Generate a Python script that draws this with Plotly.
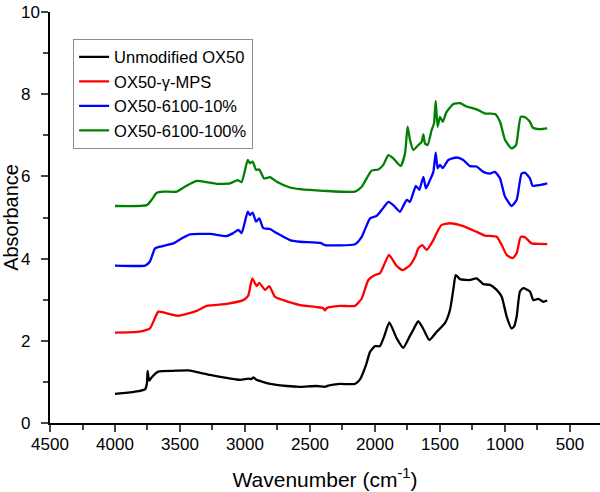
import plotly.graph_objects as go

# ---- data ----
names = ["Unmodified OX50", "OX50-\u03b3-MPS", "OX50-6100-10%", "OX50-6100-100%"]

wn_unmod = [4000, 3850, 3769, 3755, 3749, 3742, 3736, 3720, 3667, 3550, 3436, 3269, 3038, 2975, 2950, 2936, 2910,
            2872, 2833, 2679, 2577, 2450, 2385, 2360, 2269, 2154, 2115, 2070, 2038, 2000, 1962, 1930, 1890, 1833,
            1782, 1731, 1700, 1667, 1630, 1582, 1525, 1462, 1423, 1395, 1379, 1346, 1300, 1269, 1218, 1167, 1115,
            1064, 1025, 987, 949, 930, 910, 885, 859, 808, 782, 744, 705, 675]
abs_unmod = [0.71, 0.76, 0.82, 0.95, 1.27, 1.10, 1.03, 1.10, 1.25, 1.27, 1.28, 1.17, 1.05, 1.08, 1.07, 1.11, 1.05,
             1.01, 0.97, 0.90, 0.88, 0.90, 0.88, 0.91, 0.95, 0.95, 1.06, 1.40, 1.73, 1.87, 1.87, 2.10, 2.45, 2.06,
             1.83, 2.12, 2.30, 2.48, 2.30, 2.02, 2.22, 2.43, 2.75, 3.30, 3.60, 3.50, 3.48, 3.48, 3.52, 3.38, 3.36,
             3.24, 3.07, 2.59, 2.30, 2.35, 2.59, 3.20, 3.28, 3.20, 2.99, 3.02, 2.95, 2.98]

wn_mps = [4000, 3850, 3782, 3731, 3700, 3667, 3615, 3513, 3372, 3295, 3141, 3013, 2975, 2944, 2910, 2890, 2846,
          2813, 2769, 2705, 2577, 2450, 2400, 2385, 2370, 2269, 2154, 2102, 2051, 2000, 1962, 1930, 1892, 1838,
          1787, 1731, 1690, 1667, 1636, 1603, 1551, 1513, 1487, 1423, 1321, 1218, 1154, 1064, 1025, 987, 941,
          910, 879, 846, 795, 744, 675]
abs_mps = [2.20, 2.21, 2.24, 2.30, 2.50, 2.71, 2.68, 2.61, 2.73, 2.85, 2.90, 2.99, 3.10, 3.52, 3.33, 3.41, 3.24,
           3.33, 3.07, 2.99, 2.87, 2.82, 2.80, 2.74, 2.80, 2.85, 2.85, 3.03, 3.48, 3.60, 3.64, 3.85, 4.09, 3.84,
           3.72, 3.84, 4.05, 4.25, 4.33, 4.21, 4.45, 4.70, 4.82, 4.86, 4.79, 4.65, 4.56, 4.53, 4.33, 4.09, 4.01,
           4.13, 4.53, 4.52, 4.37, 4.36, 4.35]

wn_10 = [4000, 3850, 3769, 3731, 3692, 3654, 3603, 3551, 3487, 3423, 3269, 3141, 3090, 3051, 3026, 2979, 2962,
         2941, 2915, 2890, 2859, 2808, 2756, 2654, 2577, 2420, 2385, 2154, 2102, 2038, 1987, 1949, 1897, 1859,
         1808, 1756, 1731, 1685, 1659, 1628, 1608, 1577, 1551, 1533, 1518, 1500, 1479, 1436, 1372, 1321, 1269,
         1218, 1167, 1115, 1077, 1038, 1000, 949, 910, 872, 846, 808, 787, 731, 675]
abs_10 = [3.83, 3.82, 3.83, 3.93, 4.25, 4.29, 4.33, 4.37, 4.49, 4.59, 4.60, 4.55, 4.62, 4.70, 4.62, 5.14, 5.06,
          5.12, 4.90, 4.98, 4.74, 4.72, 4.62, 4.45, 4.41, 4.38, 4.33, 4.35, 4.53, 4.98, 5.04, 5.18, 5.38, 5.30,
          5.14, 5.43, 5.38, 5.77, 5.67, 5.99, 5.71, 5.91, 6.11, 6.58, 6.20, 6.28, 6.20, 6.40, 6.46, 6.40, 6.25,
          6.24, 6.11, 6.07, 6.11, 5.95, 5.51, 5.28, 5.43, 6.07, 6.09, 5.95, 5.77, 5.79, 5.83]

wn_100 = [4000, 3756, 3718, 3679, 3628, 3526, 3462, 3372, 3295, 3218, 3115, 3056, 3026, 2979, 2962, 2941, 2915,
          2890, 2854, 2808, 2756, 2654, 2577, 2397, 2154, 2102, 2026, 1974, 1936, 1897, 1859, 1803, 1769, 1749,
          1731, 1705, 1667, 1641, 1628, 1615, 1595, 1564, 1546, 1533, 1518, 1500, 1479, 1449, 1397, 1346, 1295,
          1218, 1154, 1077, 1038, 1000, 949, 915, 879, 846, 808, 787, 731, 675]
abs_100 = [5.28, 5.30, 5.43, 5.60, 5.63, 5.63, 5.75, 5.89, 5.86, 5.82, 5.83, 5.91, 5.86, 6.40, 6.32, 6.36, 6.16,
           6.17, 5.95, 5.98, 5.87, 5.73, 5.69, 5.65, 5.63, 5.75, 6.14, 6.17, 6.28, 6.52, 6.44, 6.25, 6.56, 7.21,
           6.89, 6.64, 6.76, 6.84, 7.02, 6.80, 6.76, 7.13, 7.29, 7.84, 7.21, 7.45, 7.33, 7.57, 7.76, 7.78, 7.70,
           7.63, 7.53, 7.52, 7.33, 6.89, 6.68, 6.76, 7.45, 7.44, 7.33, 7.19, 7.15, 7.17]

x_ticks = [4500, 4000, 3500, 3000, 2500, 2000, 1500, 1000, 500]
y_ticks = [0, 2, 4, 6, 8, 10]
# labels are left-aligned in the reference: pad single digits to two-digit width
y_ticktext = ["0\u00a0\u00a0", "2\u00a0\u00a0", "4\u00a0\u00a0", "6\u00a0\u00a0", "8\u00a0\u00a0", "10"]

colors = ["#000000", "#ff0000", "#0000ff", "#008000"]
series = [(wn_unmod, abs_unmod), (wn_mps, abs_mps), (wn_10, abs_10), (wn_100, abs_100)]

FONT = "Arial, 'Liberation Sans', sans-serif"

fig = go.Figure()
for (wx, ay), nm, c in zip(series, names, colors):
    fig.add_trace(go.Scatter(x=wx, y=ay, mode="lines", name=nm,
                             line=dict(color=c, width=2.3, shape="spline", smoothing=0.5)))

fig.update_layout(
    width=600, height=492,
    margin=dict(l=50, r=0, t=12, b=69),
    paper_bgcolor="white", plot_bgcolor="white",
    font=dict(family=FONT, color="black"),
    showlegend=True,
    legend=dict(x=0.042, y=0.935, xanchor="left", yanchor="top",
                bgcolor="white", bordercolor="#8c8c8c", borderwidth=1,
                font=dict(size=16.5, family=FONT), tracegroupgap=0),
)
fig.update_xaxes(
    range=[4500, 269], tickvals=x_ticks, ticks="outside", ticklen=7, tickwidth=1.5,
    showline=True, linecolor="black", linewidth=1.5, showgrid=False, zeroline=False,
    automargin=False, ticklabelstandoff=-2,
    tickfont=dict(size=17, family=FONT),
    minor=dict(ticks="outside", ticklen=5, tickwidth=1.5, dtick=250, tick0=0, showgrid=False),
    title=dict(text="Wavenumber (cm<sup>-1</sup>)", font=dict(size=21, family=FONT), standoff=19),
)
fig.update_yaxes(
    range=[0, 10], tickvals=y_ticks, ticktext=y_ticktext, ticks="outside", ticklen=7, tickwidth=1.5,
    showline=True, linecolor="black", linewidth=1.5, showgrid=False, zeroline=False,
    automargin=False, ticklabelstandoff=-2,
    tickfont=dict(size=17, family=FONT),
    minor=dict(ticks="outside", ticklen=5, tickwidth=1.5, dtick=1, tick0=0, showgrid=False),
    title=dict(text="Absorbance", font=dict(size=20, family=FONT), standoff=4),
)

fig.write_html("out.html", post_script="document.body.style.margin='0';",
               config={"displayModeBar": False})
